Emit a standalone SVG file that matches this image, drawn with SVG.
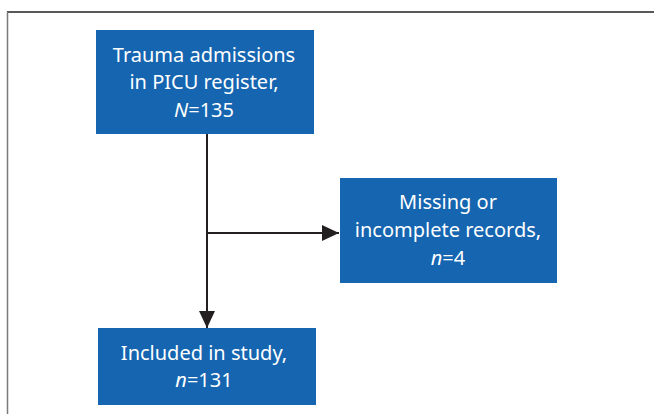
<svg xmlns="http://www.w3.org/2000/svg" width="654" height="414" viewBox="0 0 654 414">
<style>
.box{fill:#1565b0}
.t{font-family:"Noto Sans","Liberation Sans",sans-serif;font-size:20px;fill:#fff;text-anchor:middle}
.c{stroke:#231f20;stroke-width:2;fill:none}
</style>
<defs>
<marker id="ah2" markerWidth="18" markerHeight="16" refX="17" refY="8" orient="auto" markerUnits="userSpaceOnUse" viewBox="0 0 18 16">
<path d="M0,0 L17,8 L0,16 Z" fill="#231f20"/>
</marker>
</defs>
<rect width="654" height="414" fill="#fff"/>
<line x1="7" y1="12" x2="654" y2="12" stroke="#231f20" stroke-width="1.5"/>
<line x1="7.5" y1="12" x2="7.5" y2="414" stroke="#7a7a7a" stroke-width="1.5"/>
<g id="connectors">
<line class="c" x1="207" y1="134" x2="207" y2="328" marker-end="url(#ah2)"/>
<line class="c" x1="207" y1="233" x2="339" y2="233" marker-end="url(#ah2)"/>
</g>
<g id="n1">
<rect class="box" x="96" y="30" width="218" height="104"/>
<text class="t" x="204" y="62">Trauma admissions</text>
<text class="t" x="204" y="89">in PICU register,</text>
<text class="t" x="204" y="117"><tspan font-style="italic">N</tspan>=135</text>
</g>
<g id="n2">
<rect class="box" x="340" y="178" width="217" height="105"/>
<text class="t" x="448" y="209">Missing or</text>
<text class="t" x="448" y="237">incomplete records,</text>
<text class="t" x="448" y="265"><tspan font-style="italic">n</tspan>=4</text>
</g>
<g id="n3">
<rect class="box" x="98" y="328" width="218" height="77"/>
<text class="t" x="204" y="360">Included in study,</text>
<text class="t" x="204" y="387"><tspan font-style="italic">n</tspan>=131</text>
</g>
</svg>
